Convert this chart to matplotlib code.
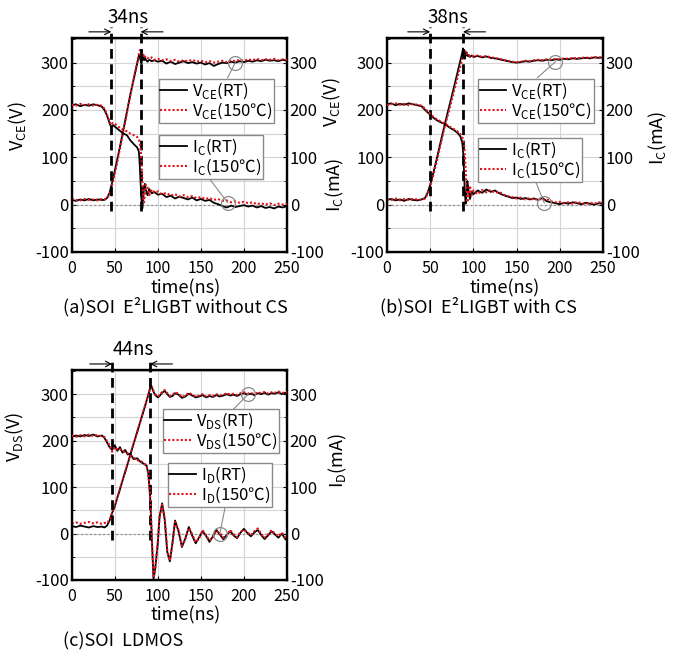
import matplotlib
matplotlib.use("Agg")
import matplotlib.pyplot as plt
from matplotlib.ticker import MultipleLocator

plt.rcParams['font.family'] = ['Noto Sans CJK JP', 'DejaVu Sans']
plt.rcParams['mathtext.fontset'] = 'custom'
plt.rcParams['mathtext.rm'] = 'Noto Sans CJK JP'
plt.rcParams['axes.unicode_minus'] = False

# ---------------- (a) SOI E2LIGBT without CS ----------------
t_a = [0, 5, 10, 15, 20, 25, 30, 35, 38, 41, 44, 46, 48, 52, 56, 60, 64, 68, 72, 76,
       78, 79, 80, 81, 82, 83, 84, 85, 86, 88, 90, 93, 96,
       100, 105, 110, 115, 120, 125, 130, 135, 140, 145, 150, 155, 160, 165, 170, 175,
       180, 185, 190, 195, 200, 205, 210, 215, 220, 225, 230, 235, 240, 245, 250]
vce_rt_a = [10, 8, 11, 9, 12, 9, 11, 10, 10, 14, 25, 40, 55, 88, 122, 158, 195, 232, 265, 298,
            315, 312, 305, 298, 308, 312, 305, 310, 306, 302, 306, 303, 305,
            302, 304, 298, 302, 297, 300, 303, 299, 301, 298, 300, 296, 299, 293, 297, 300,
            299, 302, 300, 303, 301, 304, 302, 305, 303, 306, 304, 305, 303, 306, 304]
vce_hot_a = [12, 10, 9, 12, 10, 11, 9, 12, 11, 13, 22, 35, 50, 82, 118, 155, 192, 230, 266, 300,
             318, 325, 328, 322, 318, 315, 318, 312, 314, 310, 308, 311, 306,
             308, 305, 307, 303, 306, 302, 305, 303, 306, 302, 304, 301, 303, 300, 302, 304,
             301, 305, 303, 306, 304, 307, 305, 308, 305, 307, 306, 308, 305, 307, 306]
ic_rt_a = [210, 212, 208, 211, 209, 212, 210, 207, 200, 188, 172, 163, 168, 162, 156, 150, 147, 136, 128, 121,
           112, 85, 45, 10, -8, 12, 38, 44, 32, 20, 33, 24, 27,
           21, 23, 16, 19, 13, 17, 14, 11, 15, 9, 12, 8, 10, 4, 1, -3,
           -6, -2, -5, -3, -1, -4, -2, -6, -3, -7, -5, -8, -4, -6, -3]
ic_hot_a = [211, 209, 213, 210, 212, 209, 211, 209, 203, 190, 175, 168, 173, 168, 162, 158, 155, 150, 147, 143,
            138, 130, 118, 95, 55, 15, 5, 22, 42, 38, 20, 32, 26,
            28, 22, 25, 19, 22, 17, 20, 16, 18, 14, 16, 12, 14, 10, 12, 8,
            9, 5, 7, 4, 6, 3, 5, 1, 3, 0, 3, -1, 2, 0, 2]

# ---------------- (b) SOI E2LIGBT with CS ----------------
t_b = [0, 5, 10, 15, 20, 25, 30, 35, 40, 44, 47, 50, 54, 58, 62, 66, 70, 74, 78, 82,
       85, 87, 88, 89, 90, 91, 92, 93, 94, 96, 98,
       100, 105, 110, 115, 120, 125, 130, 135, 140, 145, 150, 155, 160, 165, 170, 175,
       180, 185, 190, 195, 200, 205, 210, 215, 220, 225, 230, 235, 240, 245, 250]
vce_rt_b = [10, 12, 9, 11, 8, 12, 10, 9, 11, 14, 25, 42, 70, 100, 132, 163, 193, 222, 252, 282,
            305, 320, 330, 315, 308, 318, 322, 314, 316, 312, 315,
            312, 314, 311, 313, 310, 309, 307, 305, 303, 301, 300, 301, 303, 302, 304, 305,
            304, 306, 305, 307, 306, 308, 307, 309, 308, 309, 310, 309, 311, 310, 311]
vce_hot_b = [12, 10, 13, 9, 12, 10, 12, 11, 10, 13, 22, 38, 65, 95, 127, 158, 186, 214, 243, 272,
             293, 305, 312, 318, 325, 322, 318, 320, 317, 314, 316,
             313, 315, 312, 314, 311, 310, 308, 306, 304, 302, 301, 302, 304, 303, 305, 306,
             305, 307, 306, 308, 307, 309, 308, 310, 309, 310, 311, 310, 312, 311, 312]
ic_rt_b = [212, 214, 210, 213, 211, 214, 212, 210, 208, 200, 195, 190, 183, 178, 174, 171, 166, 161, 157, 151,
           144, 132, 115, 75, 30, 2, 20, 50, 35, 12, 28,
           22, 30, 25, 32, 27, 30, 24, 20, 17, 14, 15, 12, 14, 11, 13, 10,
           14, 7, 5, 3, 1, 4, 2, 5, 3, 1, 4, 2, 0, 3, 2]
ic_hot_b = [210, 212, 214, 211, 213, 210, 213, 211, 209, 203, 197, 192, 185, 180, 176, 172, 168, 163, 159, 154,
            149, 143, 138, 128, 110, 75, 35, 5, 15, 40, 20,
            30, 22, 31, 26, 31, 25, 27, 21, 18, 16, 13, 15, 11, 14, 10, 13,
            9, 11, 7, 5, 6, 3, 5, 2, 6, 3, 1, 4, 2, 5, 3]

# ---------------- (c) SOI LDMOS ----------------
t_c = [0, 5, 10, 15, 20, 25, 30, 35, 38, 41, 44, 47, 50, 53, 56, 59, 62, 65, 68, 72,
       76, 80, 84, 87, 89, 91, 92, 93, 95, 97, 100, 102, 105, 108, 111, 114, 117, 120,
       124, 128, 132, 136, 140, 144, 148, 152, 156, 160, 164, 168, 172, 176, 180, 184,
       188, 192, 196, 200, 204, 208, 212, 216, 220, 224, 228, 232, 236, 240, 244, 248, 250]
vds_rt_c = [16, 14, 17, 15, 13, 16, 14, 15, 13, 17, 28, 45, 58, 77, 95, 114, 132, 150, 169, 194,
            218, 243, 267, 286, 299, 312, 318, 315, 305, 298, 293, 296, 303, 307, 300, 294, 296, 302,
            299, 292, 295, 301, 297, 293, 295, 298, 293, 296, 294, 298, 295, 297, 300, 297,
            299, 296, 300, 302, 299, 301, 298, 302, 300, 303, 299, 302, 301, 304, 300, 303, 302]
vds_hot_c = [22, 24, 21, 23, 25, 22, 24, 21, 23, 22, 30, 45, 60, 78, 96, 115, 133, 151, 170, 195,
             219, 244, 268, 287, 300, 313, 320, 316, 307, 300, 295, 298, 305, 309, 302, 296, 298, 304,
             301, 294, 297, 303, 299, 295, 297, 300, 295, 298, 296, 300, 297, 299, 302, 299,
             301, 298, 302, 304, 301, 303, 300, 304, 302, 305, 301, 304, 303, 306, 302, 305, 304]
id_rt_c = [208, 211, 209, 212, 210, 213, 209, 211, 206, 196, 186, 180, 190, 178, 186, 174, 180, 170, 172, 160,
           162, 154, 150, 146, 128, 80, 40, -10, -98, -75, -20, 35, 65, 30, -40, -60, -20, 28,
           5, -29, -10, 14, -5, -21, -8, 5, -5, -18, -6, 8, -2, -12, -3, 5,
           -4, -10, 2, 10, 1, -6, 2, 8, -3, -12, -4, 5, -2, -9, 0, -12, -14]
id_hot_c = [211, 208, 212, 209, 213, 210, 212, 209, 208, 199, 190, 176, 186, 181, 182, 177, 176, 173, 168, 163,
            158, 156, 152, 145, 130, 85, 45, -5, -95, -78, -15, 38, 62, 33, -37, -58, -23, 25,
            8, -26, -13, 12, -2, -19, -10, 7, -3, -15, -8, 6, 1, -9, -5, 8,
            -2, -8, 4, 8, 3, -4, 5, 11, -1, -9, -2, 7, 0, -6, 2, -9, -11]

# switching-time markers (ns)
switch_a = (46, 80)
switch_b = (50, 88)
switch_c = (47, 91)

RED = '#e3121b'
GREY = '#8a8a8a'
FIG_W, FIG_H = 674, 652


def px_rect(left, top, right, bottom):
    return [left / FIG_W, 1 - bottom / FIG_H, (right - left) / FIG_W, (bottom - top) / FIG_H]


def panel(fig, rect, t, v_rt, v_hot, i_rt, i_hot, vsub, isub, switch, span_text,
          leg1_xy, leg2_xy, vlab_xy, ilab_xy, xlab_x, circ1, line1, circ2, line2):
    ax = fig.add_axes(rect)
    ax.set_xlim(0, 250)
    ax.set_ylim(-100, 352)
    ax.set_xticks([0, 50, 100, 150, 200, 250])
    ax.set_yticks([-100, 0, 100, 200, 300])
    ax.yaxis.set_minor_locator(MultipleLocator(50))
    ax.grid(True, which='both', color='#d4d4d4', lw=0.8)
    ax.set_axisbelow(True)
    ax.axhline(0, color=GREY, lw=0.9, ls=(0, (1.5, 2)), zorder=1)
    ax.tick_params(direction='in', length=3, labelsize=12, pad=2, which='major')
    ax.tick_params(axis='x', pad=5.5, labelsize=11.5)
    ax.tick_params(direction='in', length=2, which='minor')
    for s in ax.spines.values():
        s.set_linewidth(1.7)

    tw = ax.twinx()
    tw.set_ylim(-100, 352)
    tw.set_yticks([-100, 0, 100, 200, 300])
    tw.yaxis.set_minor_locator(MultipleLocator(50))
    tw.tick_params(direction='in', length=3, labelsize=12, pad=2, which='major')
    tw.tick_params(direction='in', length=2, which='minor')

    lv1, = ax.plot(t, v_rt, color='black', lw=1.3, zorder=3,
                   label=r'V$_{\mathregular{%s}}$(RT)' % vsub)
    lv2, = ax.plot(t, v_hot, color=RED, lw=1.5, ls=(0, (1, 1)), zorder=4,
                   label=r'V$_{\mathregular{%s}}$(150℃)' % vsub)
    li1, = tw.plot(t, i_rt, color='black', lw=1.3, zorder=3,
                   label=r'I$_{\mathregular{%s}}$(RT)' % isub)
    li2, = tw.plot(t, i_hot, color=RED, lw=1.5, ls=(0, (1, 1)), zorder=4,
                   label=r'I$_{\mathregular{%s}}$(150℃)' % isub)

    ax.set_ylabel(r'V$_{\mathregular{%s}}$(V)' % vsub, fontsize=13)
    ax.yaxis.set_label_coords(*vlab_xy)
    tw.set_ylabel(r'I$_{\mathregular{%s}}$(mA)' % isub, fontsize=13)
    tw.yaxis.set_label_coords(*ilab_xy)
    ax.set_xlabel('time(ns)', fontsize=13)
    ax.xaxis.set_label_coords(xlab_x, -0.127)

    # switching interval markers
    d1, d2 = switch
    for d in switch:
        ax.plot([d, d], [-14, 376], color='black', lw=2.0, ls=(0, (3.5, 2.0)),
                clip_on=False, zorder=5)
    ya = 365
    ax.annotate('', xy=(d1, ya), xytext=(d1 - 26, ya), annotation_clip=False,
                arrowprops=dict(arrowstyle='->', lw=0.8, color='black', shrinkA=0, shrinkB=0))
    ax.annotate('', xy=(d2, ya), xytext=(d2 + 26, ya), annotation_clip=False,
                arrowprops=dict(arrowstyle='->', lw=0.8, color='black', shrinkA=0, shrinkB=0))
    ax.text((d1 + d2) / 2 + 2, 396, span_text, ha='center', va='center', fontsize=13.5,
            clip_on=False)

    leg_kw = dict(loc='upper left', fontsize=12, fancybox=False, edgecolor=GREY,
                  framealpha=1, borderpad=0.1, labelspacing=0.0, handlelength=1.6,
                  handletextpad=0.3, borderaxespad=0)
    leg1 = ax.legend(handles=[lv1, lv2], bbox_to_anchor=leg1_xy, **leg_kw)
    leg1.get_frame().set_linewidth(1.0)
    leg1.set_zorder(10)
    leg2 = tw.legend(handles=[li1, li2], bbox_to_anchor=leg2_xy, **leg_kw)
    leg2.get_frame().set_linewidth(1.0)
    leg2.set_zorder(10)

    # callout circles tying curves to legends
    for (cx, cy), (lx, ly) in ((circ1, line1), (circ2, line2)):
        tw.plot([lx, cx], [ly, cy], color=GREY, lw=0.8, zorder=6)
        tw.plot([cx], [cy], marker='o', ms=10, mfc='none', mec=GREY, mew=0.9, zorder=6)
    return ax


fig = plt.figure(figsize=(6.74, 6.52), dpi=100)

panel(fig, px_rect(71.7, 38, 287, 252), t_a, vce_rt_a, vce_hot_a, ic_rt_a, ic_hot_a,
      'CE', 'C', switch_a, '34ns',
      leg1_xy=(0.404, 0.808), leg2_xy=(0.404, 0.547),
      vlab_xy=(-0.20, 0.59), ilab_xy=(1.17, 0.313), xlab_x=0.53,
      circ1=(190, 300), line1=(181, 268), circ2=(181, 4), line2=(157, 62))

panel(fig, px_rect(387, 38, 603, 252), t_b, vce_rt_b, vce_hot_b, ic_rt_b, ic_hot_b,
      'CE', 'C', switch_b, '38ns',
      leg1_xy=(0.421, 0.808), leg2_xy=(0.421, 0.533),
      vlab_xy=(-0.205, 0.70), ilab_xy=(1.205, 0.533), xlab_x=0.545,
      circ1=(195, 302), line1=(174, 268), circ2=(182, 4), line2=(172, 49))

panel(fig, px_rect(71.7, 370, 287, 580), t_c, vds_rt_c, vds_hot_c, id_rt_c, id_hot_c,
      'DS', 'D', switch_c, '44ns',
      leg1_xy=(0.423, 0.814), leg2_xy=(0.446, 0.557),
      vlab_xy=(-0.21, 0.68), ilab_xy=(1.187, 0.567), xlab_x=0.53,
      circ1=(205, 300), line1=(188, 268), circ2=(172, 0), line2=(179, 64))

fig.text(63 / FIG_W, 1 - 307 / FIG_H, '(a)SOI  E²LIGBT without CS', fontsize=13,
         ha='left', va='center')
fig.text(380 / FIG_W, 1 - 307 / FIG_H, '(b)SOI  E²LIGBT with CS', fontsize=13,
         ha='left', va='center')
fig.text(63 / FIG_W, 1 - 641 / FIG_H, '(c)SOI  LDMOS', fontsize=13,
         ha='left', va='center')

fig.savefig('out.png', dpi=100)
